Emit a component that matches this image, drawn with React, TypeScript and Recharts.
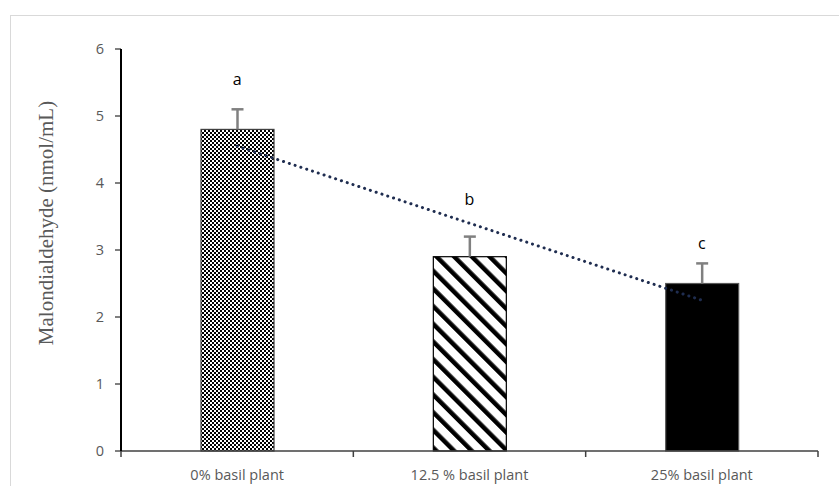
import React from 'react';
import { ComposedChart, Bar, Line, XAxis, YAxis, LabelList } from 'recharts';

const categories = ['0% basil plant', '12.5 % basil plant', '25% basil plant'];
const mdaValues = [4.8, 2.9, 2.5];
const mdaErrors = [0.3, 0.3, 0.3];
const trendValues = [4.55, 3.4, 2.25];
const letters = ['a', 'b', 'c'];
const letterHeights = [5.55, 3.75, 3.1];
const yTicks = [0, 1, 2, 3, 4, 5, 6];
const barFills = ['url(#checker)', 'url(#diag)', '#000000'];
const barStrokes = ['#404040', '#000000', '#595959'];

const data = categories.map((name, i) => ({
  name,
  value: mdaValues[i],
  err: mdaErrors[i],
  trend: trendValues[i],
  letter: letters[i],
  letterY: letterHeights[i],
  fill: barFills[i],
  edge: barStrokes[i],
}));

const tickFont = { fontFamily: '"Open Sans", Lato, sans-serif', fontSize: 14.5, fill: '#595959' };

// Bar with a plus-direction error bar; the error length is taken from the bar's own scale (height per unit).
const BarWithError = (props: any) => {
  const { x, y, width, height, payload } = props;
  if (!payload || !height) return null;
  const pxPerUnit = height / payload.value;
  const errPx = payload.err * pxPerUnit;
  const cx = x + width / 2;
  return (
    <g>
      <rect x={x} y={y} width={width} height={height} fill={payload.fill} stroke={payload.edge} strokeWidth={1.2} />
      <line x1={cx} y1={y} x2={cx} y2={y - errPx} stroke="#808080" strokeWidth={2.5} />
      <line x1={cx - 6} y1={y - errPx} x2={cx + 6} y2={y - errPx} stroke="#808080" strokeWidth={2.5} />
    </g>
  );
};

const CategoryTick = (props: any) => {
  const { x, y, payload, index, visibleTicksCount, width } = props;
  const count = visibleTicksCount || categories.length;
  const band = (typeof width === 'number' && width > 0 ? width : 697) / count;
  const axisY = y - 16;
  const left = x - band / 2;
  const right = x + band / 2;
  return (
    <g>
      <line x1={left} y1={axisY} x2={left} y2={axisY + 6} stroke="#404040" strokeWidth={1.5} />
      {index === count - 1 && (
        <line x1={right} y1={axisY} x2={right} y2={axisY + 6} stroke="#404040" strokeWidth={1.5} />
      )}
      <text x={x} y={y + 1} textAnchor="middle" dominantBaseline="hanging" style={tickFont}>
        {payload.value}
      </text>
    </g>
  );
};

const YLabel = (props: any) => {
  const vb = props.viewBox || { x: 0, y: 0, height: 0 };
  const cx = 46;
  const cy = vb.y + vb.height / 2 - 27;
  return (
    <text
      x={cx}
      y={cy}
      transform={`rotate(-90, ${cx}, ${cy})`}
      textAnchor="middle"
      dominantBaseline="central"
      style={{ fontFamily: '"Liberation Serif", "Times New Roman", serif', fontSize: 21, fill: '#595959' }}
    >
      Malondialdehyde (nmol/mL)
    </text>
  );
};

export default function App() {
  return (
    <div style={{ position: 'absolute', left: 0, top: 0, width: 839, height: 486, background: '#ffffff', overflow: 'hidden' }}>
      <div style={{ position: 'absolute', left: 10, top: 15, width: 860, height: 500, border: '1px solid #d9d9d9', boxSizing: 'border-box' }} />
      <div style={{ position: 'absolute', left: 0, top: 0 }}>
        <ComposedChart width={839} height={486} data={data} margin={{ top: 49, right: 21, bottom: 0, left: 71 }}>
          <defs>
            <pattern id="checker" width="4" height="4" patternUnits="userSpaceOnUse">
              <rect x="0" y="0" width="4" height="4" fill="#000000" />
              <rect x="0" y="0" width="2" height="2" fill="#ffffff" />
              <rect x="2" y="2" width="2" height="2" fill="#ffffff" />
            </pattern>
            <pattern id="diag" width="12.5" height="12.5" patternUnits="userSpaceOnUse" patternTransform="rotate(-45)">
              <rect x="0" y="0" width="12.5" height="12.5" fill="#ffffff" />
              <rect x="0" y="0" width="4.5" height="12.5" fill="#000000" />
            </pattern>
          </defs>
          <XAxis
            dataKey="name"
            axisLine={{ stroke: '#404040', strokeWidth: 1.5 }}
            tickLine={false}
            height={35}
            tickSize={6}
            tickMargin={10}
            tick={<CategoryTick />}
            interval={0}
          />
          <YAxis
            domain={[0, 6]}
            ticks={yTicks}
            width={50}
            axisLine={{ stroke: '#000000', strokeWidth: 2 }}
            tickLine={{ stroke: '#000000', strokeWidth: 1 }}
            tickSize={6}
            tickMargin={11}
            tick={tickFont}
            label={<YLabel />}
          />
          <Bar dataKey="value" barSize={73} isAnimationActive={false} shape={<BarWithError />} />
          <Line
            dataKey="trend"
            stroke="#1f2d50"
            strokeWidth={3}
            strokeDasharray="0.1 6"
            strokeLinecap="round"
            dot={false}
            activeDot={false}
            isAnimationActive={false}
          />
          <Line dataKey="letterY" stroke="none" dot={false} activeDot={false} isAnimationActive={false}>
            <LabelList
              dataKey="letter"
              position="center"
              style={{ fontFamily: '"Open Sans", Lato, sans-serif', fontSize: 16, fill: '#000000' }}
            />
          </Line>
        </ComposedChart>
      </div>
    </div>
  );
}
